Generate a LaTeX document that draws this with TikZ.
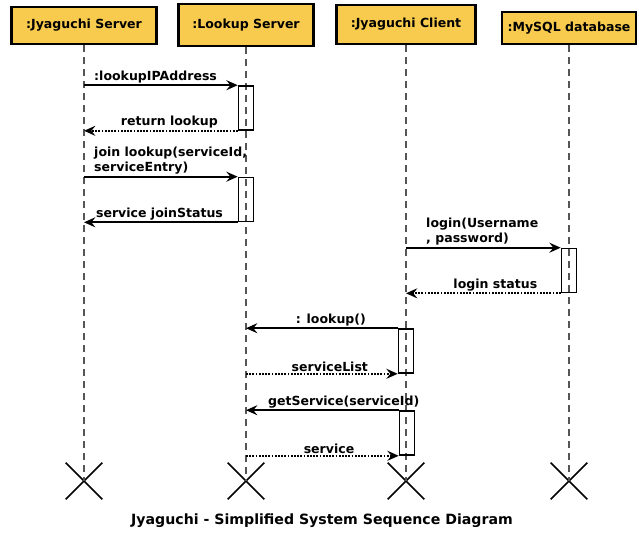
\documentclass[tikz,border=0pt]{standalone}
\usepackage{fontspec}
\setmainfont{DejaVu Sans}
\usepackage{xcolor}
\definecolor{actorfill}{HTML}{F8CB4E}
\definecolor{lifegray}{HTML}{555555}
\usetikzlibrary{arrows.meta,shapes.misc}

\begin{document}
\begin{tikzpicture}[x=0.75pt, y=-0.75pt,
  actor/.style={draw=black, line width=1.8pt, fill=actorfill, inner sep=0pt,
    font=\fontsize{9.4}{11}\selectfont\bfseries},
  act/.style={draw=black, line width=1.2pt, minimum width=11.25pt, minimum height=33pt, inner sep=0pt},
  life/.style={lifegray, line width=0.8pt, dash pattern=on 5pt off 4pt},
  endx/.style={cross out, draw=black, line width=1.2pt, minimum size=26.25pt, inner sep=0pt},
  msg/.style={line width=1.3pt, -{Stealth[length=8.5pt,width=7.5pt,inset=3pt]}},
  ret/.style={msg, dash pattern=on 1.3pt off 1.1pt},
  lbl/.style={font=\fontsize{9.4}{11.2}\selectfont\bfseries, inner sep=1pt}]
\useasboundingbox (0,0) rectangle (639,533);

% Actors
\node[actor, minimum width=108.75pt, minimum height=27.75pt] (js) at (84,25.5) {:Jyaguchi Server};
\node[actor, minimum width=101.25pt, minimum height=31.5pt] (ls) at (246,25) {:Lookup Server};
\node[actor, minimum width=104.25pt, minimum height=29.25pt] (jc) at (406,24.5) {:Jyaguchi Client};
\node[actor, minimum width=100.5pt, minimum height=24pt] (db) at (569,28) {:MySQL database};

% End crosses
\node[endx] (xjs) at (84,481) {};
\node[endx] (xls) at (246,481) {};
\node[endx] (xjc) at (406,481) {};
\node[endx] (xdb) at (569,481) {};

% Lifelines
\draw[life] (js.south) -- (xjs.center);
\draw[life] (ls.south) -- (xls.center);
\draw[life] (jc.south) -- (xjc.center);
\draw[life] (db.south) -- (xdb.center);

% Activations
\node[act] (a1) at (246,108) {};
\node[act] (a2) at (246,199.5) {};
\node[act] (a3) at (569,270.5) {};
\node[act] (a4) at (406,351) {};
\node[act] (a5) at (407,433) {};

% Messages
\draw[msg] (a1.north west -| js) -- (a1.north west)
  node[lbl, anchor=south west, pos=0, xshift=6pt] (m1) {:lookupIPAddress};
\draw[ret] (a1.south west) -- (a1.south west -| js)
  node[lbl, above, midway, xshift=6.4pt] (m2) {return lookup};
\draw[msg] (a2.north west -| js) -- (a2.north west)
  node[lbl, anchor=south west, pos=0, xshift=6pt, align=left] (m3) {join lookup(serviceId,\\serviceEntry)};
\draw[msg] (a2.south west) -- (a2.south west -| js)
  node[lbl, above, midway, xshift=-1pt] (m4) {service joinStatus};
\draw[msg] (a3.north west -| jc) -- (a3.north west)
  node[lbl, anchor=south west, pos=0, xshift=13.5pt, align=left] (m5) {login(Username\\, password)};
\draw[ret] (a3.south west) -- (a3.south west -| jc)
  node[lbl, above, midway, xshift=9pt] (m6) {login status};
\draw[msg] (a4.north west) -- (a4.north west -| ls)
  node[lbl, above, midway, xshift=6.75pt] (m7) {: lookup()};
\draw[ret] (a4.south west -| ls) -- (a4.south west)
  node[lbl, above, midway, xshift=6pt] (m8) {serviceList};
\draw[msg] (a5.north west) -- (a5.north west -| ls)
  node[lbl, above, midway, xshift=16pt] (m9) {getService(serviceId)};
\draw[ret] (a5.south west -| ls) -- (a5.south west)
  node[lbl, above, midway, xshift=5pt] (m10) {service};

% Caption
\node[font=\fontsize{10.6}{12}\selectfont\bfseries] (cap) at (322,521) {Jyaguchi - Simplified System Sequence Diagram};
\end{tikzpicture}
\end{document}
